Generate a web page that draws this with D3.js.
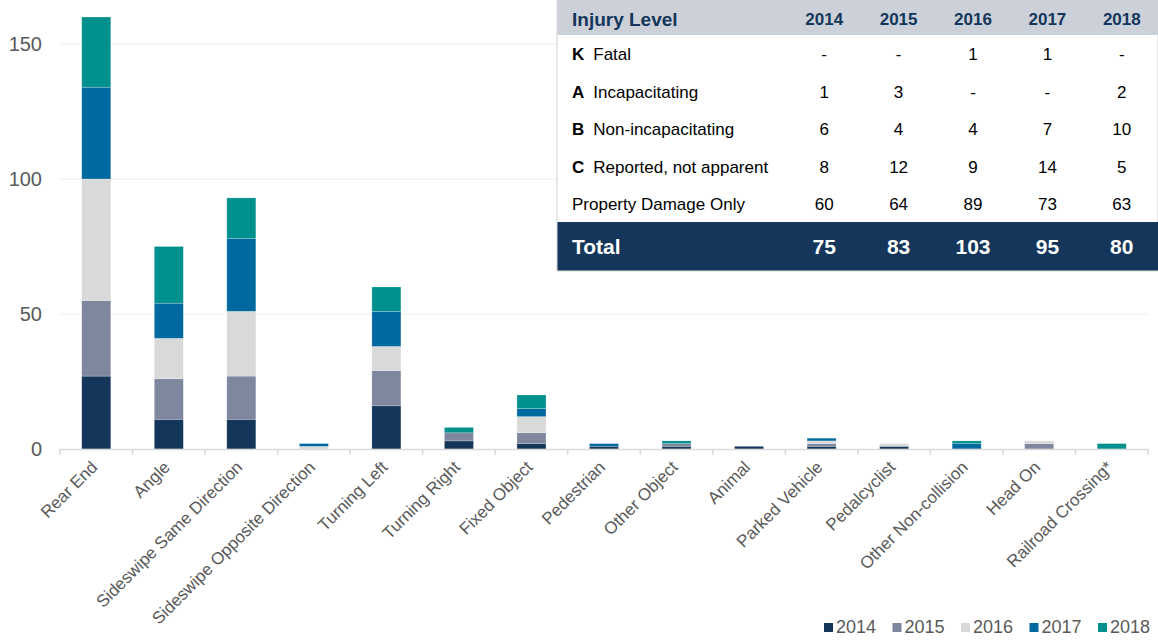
<!DOCTYPE html>
<html>
<head>
<meta charset="utf-8">
<script src="https://cdn.jsdelivr.net/npm/d3@7"></script>
<style>
  body { margin: 0; background: #fff; }
  text { font-family: Arial, "Liberation Sans", sans-serif; }
</style>
</head>
<body>
<div id="wrapper"></div>
<script>
const categories = ["Rear End", "Angle", "Sideswipe Same Direction", "Sideswipe Opposite Direction",
  "Turning Left", "Turning Right", "Fixed Object", "Pedestrian", "Other Object", "Animal",
  "Parked Vehicle", "Pedalcyclist", "Other Non-collision", "Head On", "Railroad Crossing*"];
const years = ["2014", "2015", "2016", "2017", "2018"];
const values2014 = [27, 11, 11, 0, 16, 3, 2, 1, 1, 1, 1, 1, 0, 0, 0];
const values2015 = [28, 15, 16, 0, 13, 3, 4, 0, 1, 0, 1, 0, 0, 2, 0];
const values2016 = [45, 15, 24, 1, 9, 0, 6, 0, 0, 0, 1, 1, 0, 1, 0];
const values2017 = [34, 13, 27, 1, 13, 0, 3, 1, 0, 0, 1, 0, 2, 0, 0];
const values2018 = [26, 21, 15, 0, 9, 2, 5, 0, 1, 0, 0, 0, 1, 0, 2];
const yTicks = [0, 50, 100, 150];
const colors = ["#14365a", "#7f879e", "#d9d9d9", "#006aa0", "#00918e"];

// table data
const tableHeader = "Injury Level";
const rowCodes = ["K", "A", "B", "C", ""];
const rowLabels = ["Fatal", "Incapacitating", "Non-incapacitating", "Reported, not apparent", "Property Damage Only"];
const rowValues = [
  ["-", "-", "1", "1", "-"],
  ["1", "3", "-", "-", "2"],
  ["6", "4", "4", "7", "10"],
  ["8", "12", "9", "14", "5"],
  ["60", "64", "89", "73", "63"]
];
const totals = ["75", "83", "103", "95", "80"];

const dataset = categories.map((c, i) => ({
  cat: c,
  "2014": values2014[i], "2015": values2015[i], "2016": values2016[i],
  "2017": values2017[i], "2018": values2018[i]
}));

const dims = { width: 1158, height: 640 };

const svg = d3.select("#wrapper").append("svg")
  .attr("width", dims.width)
  .attr("height", dims.height);

const xScale = d3.scaleBand()
  .domain(categories)
  .range([60, 1148])
  .paddingInner(0.6)
  .paddingOuter(0.3);

const yScale = d3.scaleLinear()
  .domain([0, 160])
  .range([449, 17]);

// gridlines
svg.append("g").selectAll("line")
  .data(yTicks.filter(d => d > 0))
  .join("line")
  .attr("x1", 60).attr("x2", 1148)
  .attr("y1", d => yScale(d)).attr("y2", d => yScale(d))
  .attr("stroke", "#eeeeee")
  .attr("stroke-width", 1);

// y labels
svg.append("g").selectAll("text")
  .data(yTicks)
  .join("text")
  .attr("x", 42)
  .attr("y", d => yScale(d))
  .attr("dy", "0.36em")
  .attr("text-anchor", "end")
  .attr("fill", "#595959")
  .attr("font-size", 20)
  .text(d => d);

// stacked bars
const stack = d3.stack().keys(years)(dataset);
svg.append("g").selectAll("g")
  .data(stack)
  .join("g")
  .attr("fill", (d, i) => colors[i])
  .selectAll("rect")
  .data(d => d)
  .join("rect")
  .attr("x", d => xScale(d.data.cat))
  .attr("width", xScale.bandwidth())
  .attr("y", d => yScale(d[1]))
  .attr("height", d => yScale(d[0]) - yScale(d[1]))
  .attr("stroke", "#ffffff")
  .attr("stroke-opacity", 0.35)
  .attr("stroke-width", 0.6);

// x axis line + ticks
const tickXs = d3.range(categories.length + 1).map(i => 60 + i * (1088 / categories.length));
const xAxis = svg.append("g");
xAxis.append("line")
  .attr("x1", 60).attr("x2", 1148)
  .attr("y1", 449.5).attr("y2", 449.5)
  .attr("stroke", "#d9d9d9").attr("stroke-width", 1.5);
xAxis.selectAll("line.tick")
  .data(tickXs)
  .join("line")
  .attr("class", "tick")
  .attr("x1", d => d).attr("x2", d => d)
  .attr("y1", 449).attr("y2", 455)
  .attr("stroke", "#d9d9d9").attr("stroke-width", 1.5);

xAxis.selectAll("text")
  .data(categories)
  .join("text")
  .attr("transform", d => `translate(${xScale(d) + xScale.bandwidth() / 2 - 2},${464}) rotate(-45)`)
  .attr("text-anchor", "end")
  .attr("dy", "0.35em")
  .attr("fill", "#595959")
  .attr("font-size", 17)
  .text(d => d);

// legend
const legend = svg.append("g");
const legendItems = legend.selectAll("g")
  .data(years)
  .join("g")
  .attr("transform", (d, i) => `translate(${824 + i * 68.5},623)`);
legendItems.append("rect")
  .attr("width", 9).attr("height", 9)
  .attr("fill", (d, i) => colors[i]);
legendItems.append("text")
  .attr("x", 12).attr("y", 10)
  .attr("font-size", 18)
  .attr("fill", "#595959")
  .text(d => d);

// table
const table = svg.append("g");
const tx = 557, tw = 601;
table.append("rect")
  .attr("x", tx).attr("y", -1)
  .attr("width", tw).attr("height", 272)
  .attr("fill", "#ffffff")
  .attr("stroke", "#d0d0d0").attr("stroke-width", 1);
table.append("rect")
  .attr("x", tx + 0.5).attr("y", 0)
  .attr("width", tw).attr("height", 35)
  .attr("fill", "#cbd0d9");
table.append("rect")
  .attr("x", tx + 0.5).attr("y", 222)
  .attr("width", tw).attr("height", 48.5)
  .attr("fill", "#14365a");

const colScale = d3.scaleBand()
  .domain(years)
  .range([787, 1159]);
const rowScale = d3.scalePoint()
  .domain(d3.range(rowLabels.length))
  .range([54, 204]);

table.append("text")
  .attr("x", 572).attr("y", 19).attr("dy", "0.36em")
  .attr("font-size", 19).attr("font-weight", "bold")
  .attr("fill", "#14365a")
  .text(tableHeader);
table.selectAll("text.yr")
  .data(years)
  .join("text")
  .attr("class", "yr")
  .attr("x", d => colScale(d) + colScale.bandwidth() / 2)
  .attr("y", 19).attr("dy", "0.36em")
  .attr("text-anchor", "middle")
  .attr("font-size", 17).attr("font-weight", "bold")
  .attr("fill", "#14365a")
  .text(d => d);

const rows = table.selectAll("g.row")
  .data(rowLabels)
  .join("g")
  .attr("class", "row")
  .attr("transform", (d, i) => `translate(0,${rowScale(i)})`);
rows.append("text")
  .attr("x", 572).attr("dy", "0.36em")
  .attr("font-size", 17)
  .attr("fill", "#000")
  .each(function(d, i) {
    const t = d3.select(this);
    if (rowCodes[i]) {
      t.append("tspan").attr("font-weight", "bold").text(rowCodes[i]);
      t.append("tspan").attr("dx", 9).text(d);
    } else {
      t.text(d);
    }
  });
rows.selectAll("text.val")
  .data((d, i) => rowValues[i])
  .join("text")
  .attr("class", "val")
  .attr("x", (d, j) => colScale(years[j]) + colScale.bandwidth() / 2)
  .attr("dy", "0.36em")
  .attr("text-anchor", "middle")
  .attr("font-size", 17)
  .attr("fill", "#000")
  .text(d => d);

table.append("text")
  .attr("x", 572).attr("y", 246).attr("dy", "0.36em")
  .attr("font-size", 21).attr("font-weight", "bold")
  .attr("fill", "#ffffff")
  .text("Total");
table.selectAll("text.tot")
  .data(totals)
  .join("text")
  .attr("class", "tot")
  .attr("x", (d, j) => colScale(years[j]) + colScale.bandwidth() / 2)
  .attr("y", 246).attr("dy", "0.36em")
  .attr("text-anchor", "middle")
  .attr("font-size", 21).attr("font-weight", "bold")
  .attr("fill", "#ffffff")
  .text(d => d);
</script>
</body>
</html>
